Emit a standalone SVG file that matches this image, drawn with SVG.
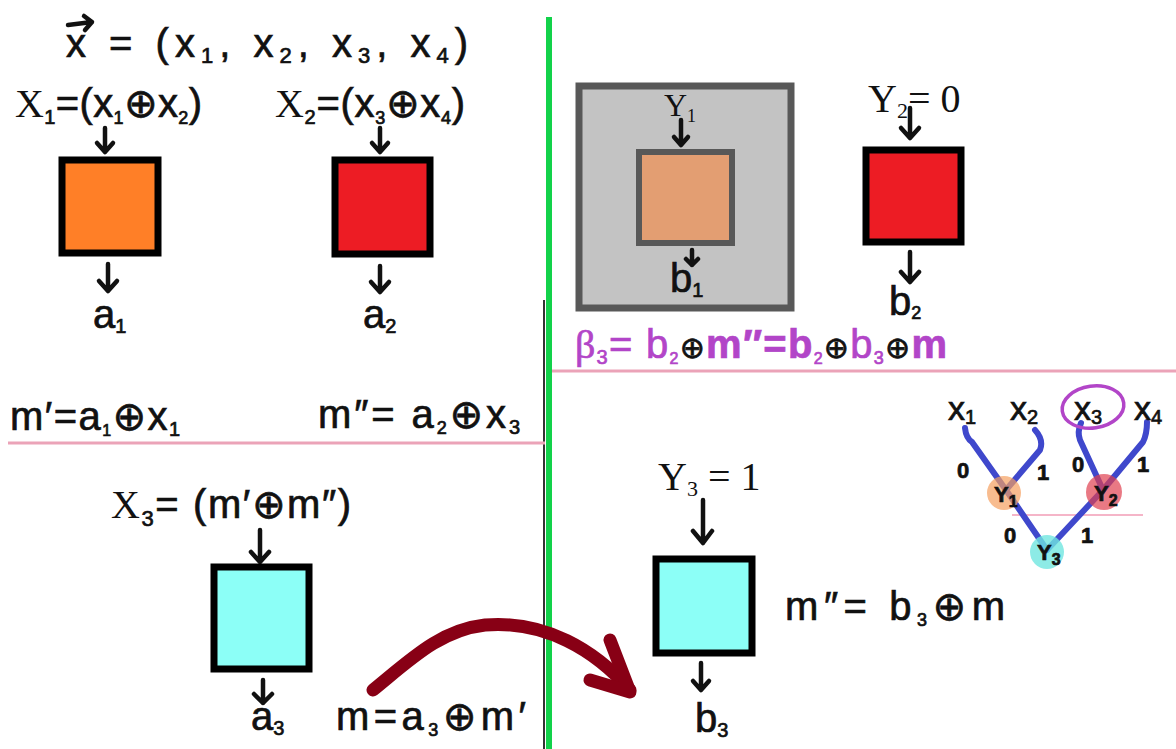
<svg xmlns="http://www.w3.org/2000/svg" width="1176" height="749" viewBox="0 0 1176 749">
<style>
.h{font-family:"Liberation Sans","DejaVu Sans",sans-serif;fill:#111;stroke:#111;stroke-width:0.7}
.s{font-family:"Liberation Serif","DejaVu Serif",serif;fill:#111;stroke:none}
.p{fill:#B245C8;stroke:#B245C8}
.arr{fill:none;stroke:#111;stroke-width:4.5;stroke-linecap:round;stroke-linejoin:round}
.box{stroke:#000;stroke-width:7}
.tree{fill:none;stroke:#3F48CC;stroke-width:6;stroke-linecap:round;stroke-linejoin:round}
.sep{stroke:#EBA3B8;stroke-width:3}
</style>
<rect width="1176" height="749" fill="#fff"/>

<g id="dividers">
  <line x1="544" y1="300" x2="544" y2="749" stroke="#333" stroke-width="2"/>
  <line x1="549" y1="17" x2="549" y2="749" stroke="#12D24A" stroke-width="6"/>
  <line class="sep" x1="8" y1="443" x2="545" y2="443"/>
  <line class="sep" x1="552" y1="371" x2="1176" y2="371"/>
  <line x1="1012" y1="515" x2="1143" y2="515" stroke="#F5B5C8" stroke-width="2"/>
</g>

<!-- Top-left quadrant -->
<g id="vector-x">
  <text class="h" x="66" y="57" font-size="40" textLength="402" lengthAdjust="spacing">x = (x<tspan font-size="22" dy="6">1</tspan><tspan dy="-6">, x</tspan><tspan font-size="22" dy="6">2</tspan><tspan dy="-6">, x</tspan><tspan font-size="22" dy="6">3</tspan><tspan dy="-6">, x</tspan><tspan font-size="22" dy="6">4</tspan><tspan dy="-6">)</tspan></text>
  <path class="arr" d="M68 25 L92 22 M84 16 L92 22 L85 30" stroke-width="4"/>
</g>

<g id="node-X1">
  <text x="15" y="117" font-size="40" textLength="187" lengthAdjust="spacing"><tspan class="s">X</tspan><tspan class="h" font-size="20" dy="7">1</tspan><tspan class="h" dy="-7">=(x</tspan><tspan class="h" font-size="18" dy="7">1</tspan><tspan class="h" dy="-7">⊕x</tspan><tspan class="h" font-size="18" dy="7">2</tspan><tspan class="h" dy="-7">)</tspan></text>
  <path class="arr" d="M105 128 V152 M97 143 L105 152 L113 143"/>
  <rect class="box" x="62" y="160" width="96" height="93" fill="#FF7F27"/>
  <path class="arr" d="M108 264 V291 M99 281 L108 291 L117 281"/>
  <text class="h" x="93" y="328" font-size="40">a<tspan font-size="20" dy="5">1</tspan></text>
</g>

<g id="node-X2">
  <text x="275" y="117" font-size="40" textLength="190" lengthAdjust="spacing"><tspan class="s">X</tspan><tspan class="h" font-size="20" dy="7">2</tspan><tspan class="h" dy="-7">=(x</tspan><tspan class="h" font-size="18" dy="7">3</tspan><tspan class="h" dy="-7">⊕x</tspan><tspan class="h" font-size="18" dy="7">4</tspan><tspan class="h" dy="-7">)</tspan></text>
  <path class="arr" d="M380 128 V152 M372 143 L380 152 L388 143"/>
  <rect class="box" x="335" y="160" width="95" height="94" fill="#ED1C24"/>
  <path class="arr" d="M380 266 V292 M371 282 L380 292 L389 282"/>
  <text class="h" x="363" y="328" font-size="40">a<tspan font-size="20" dy="5">2</tspan></text>
</g>

<g id="eq-m1">
  <text class="h" x="10" y="430" font-size="40" textLength="170" lengthAdjust="spacing">m′=a<tspan font-size="16" dy="6">1</tspan><tspan dy="-6">⊕x</tspan><tspan font-size="20" dy="6">1</tspan></text>
</g>
<g id="eq-m2">
  <text class="h" x="318" y="428" font-size="40" textLength="202" lengthAdjust="spacing">m″= a<tspan font-size="18" dy="6">2</tspan><tspan dy="-6">⊕x</tspan><tspan font-size="20" dy="6">3</tspan></text>
</g>

<!-- Bottom-left -->
<g id="node-X3">
  <text x="111" y="518" font-size="40" textLength="240" lengthAdjust="spacing"><tspan class="s">X</tspan><tspan class="h" font-size="22" dy="8">3</tspan><tspan class="h" dy="-8">= (m′⊕m″)</tspan></text>
  <path class="arr" d="M260 530 V562 M251 552 L260 562 L269 552"/>
  <rect class="box" x="214" y="567" width="95" height="102" fill="#8CFFF7"/>
  <path class="arr" d="M263 680 V703 M254 694 L263 703 L272 694"/>
  <text class="h" x="251" y="730" font-size="40">a<tspan font-size="20" dy="5">3</tspan></text>
</g>
<g id="eq-m">
  <text class="h" x="336" y="730" font-size="40" textLength="190" lengthAdjust="spacing">m=a<tspan font-size="18" dy="6">3</tspan><tspan dy="-6">⊕m′</tspan></text>
</g>

<!-- Top-right -->
<g id="node-Y1">
  <rect x="579" y="86" width="212" height="222" fill="#C3C3C3" stroke="#585858" stroke-width="7"/>
  <text class="s" x="664" y="116" font-size="32">Y<tspan font-size="18" dy="6">1</tspan></text>
  <path class="arr" d="M681 120 V145 M674 137 L681 145 L688 137"/>
  <rect x="639" y="152" width="93" height="91" fill="#E39E72" stroke="#585858" stroke-width="6"/>
  <path class="arr" d="M692 250 V265 M686 259 L692 265 L698 259"/>
  <text class="h" x="670" y="292" font-size="40">b<tspan font-size="20" dy="5">1</tspan></text>
</g>

<g id="node-Y2">
  <text x="868" y="112" font-size="40"><tspan class="s">Y</tspan><tspan class="s" font-size="22" dy="6">2</tspan><tspan class="s" dy="-6">= 0</tspan></text>
  <path class="arr" d="M910 108 V138 M901 128 L910 138 L919 128"/>
  <rect class="box" x="866" y="150" width="95" height="92" fill="#ED1C24"/>
  <path class="arr" d="M910 252 V282 M901 272 L910 282 L919 272"/>
  <text class="h" x="889" y="315" font-size="40">b<tspan font-size="18" dy="4">2</tspan></text>
</g>

<g id="eq-beta">
  <text class="h" x="575" y="358" font-size="40" textLength="372" lengthAdjust="spacing"><tspan class="s p" stroke="none">β</tspan><tspan class="p" font-size="20" dy="6">3</tspan><tspan class="p" dy="-6">= b</tspan><tspan class="p" font-size="16" dy="6">2</tspan><tspan dy="-6" font-size="30">⊕</tspan><tspan class="p" font-weight="bold">m″=b</tspan><tspan class="p" font-size="16" dy="6">2</tspan><tspan dy="-6" font-size="30">⊕</tspan><tspan class="p">b</tspan><tspan class="p" font-size="18" dy="6">3</tspan><tspan dy="-6" font-size="30">⊕</tspan><tspan class="p" font-weight="bold">m</tspan></text>
</g>

<!-- Bottom-right -->
<g id="node-Y3">
  <text x="658" y="490" font-size="40"><tspan class="s">Y</tspan><tspan class="s" font-size="22" dy="6">3</tspan><tspan class="s" dy="-6"> = 1</tspan></text>
  <path class="arr" d="M703 500 V543 M693 531 L703 543 L712 531" stroke-width="5.5"/>
  <rect class="box" x="656" y="559" width="96" height="94" fill="#8CFFF7"/>
  <path class="arr" d="M701 663 V690 M693 681 L701 690 L709 681"/>
  <text class="h" x="695" y="732" font-size="40">b<tspan font-size="20" dy="5">3</tspan></text>
</g>
<g id="eq-m2b">
  <text class="h" x="785" y="620" font-size="40" textLength="220" lengthAdjust="spacing">m″= b<tspan font-size="18" dy="6">3</tspan><tspan dy="-6">⊕m</tspan></text>
</g>

<!-- Tree -->
<g id="tree">
  <path class="tree" d="M965 428 Q966 438 972 442 L1006 490"/>
  <path class="tree" d="M1035 430 Q1044 440 1040 450 L1006 490"/>
  <path class="tree" d="M1081 423 Q1077 432 1080 440 L1103 490"/>
  <path class="tree" d="M1147 422 Q1147 434 1143 442 L1103 490"/>
  <path class="tree" d="M1006 490 L1047 550"/>
  <path class="tree" d="M1103 490 L1047 550"/>
  <circle cx="1004" cy="493" r="17" fill="#F5A060" fill-opacity="0.7"/>
  <circle cx="1104" cy="492" r="18" fill="#E04050" fill-opacity="0.7"/>
  <circle cx="1047" cy="552" r="17" fill="#70E6E0" fill-opacity="0.8"/>
  <g class="h" font-size="34">
    <text x="948" y="420">x<tspan font-size="20" dy="4">1</tspan></text>
    <text x="1010" y="420">x<tspan font-size="20" dy="4">2</tspan></text>
    <text x="1074" y="420">x<tspan font-size="20" dy="4">3</tspan></text>
    <text x="1134" y="420">x<tspan font-size="20" dy="4">4</tspan></text>
  </g>
  <ellipse cx="1093" cy="407" rx="31" ry="21" fill="none" stroke="#B245C8" stroke-width="3.5" transform="rotate(-8 1093 407)"/>
  <g class="h" font-size="22" font-weight="bold">
    <text x="994" y="502">Y<tspan font-size="16" dy="5">1</tspan></text>
    <text x="1094" y="501">Y<tspan font-size="16" dy="5">2</tspan></text>
    <text x="1037" y="560">Y<tspan font-size="16" dy="5">3</tspan></text>
    <text x="957" y="478">0</text>
    <text x="1037" y="480">1</text>
    <text x="1072" y="472">0</text>
    <text x="1137" y="472">1</text>
    <text x="1004" y="543">0</text>
    <text x="1081" y="543">1</text>
  </g>
</g>

<g id="connectors">
  <path d="M373 690 C410 660 440 630 485 625 C545 620 595 650 630 690" fill="none" stroke="#880015" stroke-width="13" stroke-linecap="round"/>
  <path d="M610 640 L630 692 L590 680" fill="none" stroke="#880015" stroke-width="13" stroke-linecap="round" stroke-linejoin="round"/>
</g>
</svg>
